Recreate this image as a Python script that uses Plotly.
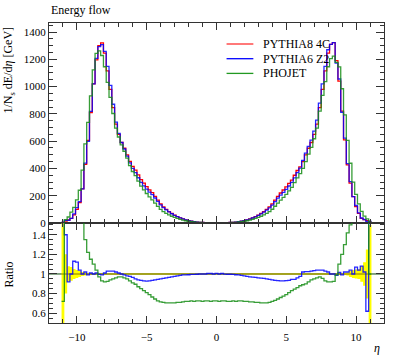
import plotly.graph_objects as go
from plotly.subplots import make_subplots

# ---- data (bin centres in eta, bin width 0.2) ----
ETA = [-11.0, -10.8, -10.6, -10.4, -10.2, -10.0, -9.8, -9.6, -9.4, -9.2, -9.0, -8.8, -8.6, -8.4, -8.2,
       -8.0, -7.8, -7.6, -7.4, -7.2, -7.0, -6.8, -6.6, -6.4, -6.2, -6.0, -5.8, -5.6, -5.4, -5.2,
       -5.0, -4.8, -4.6, -4.4, -4.2, -4.0, -3.8, -3.6, -3.4, -3.2, -3.0, -2.8, -2.6, -2.4, -2.2,
       -2.0, -1.8, -1.6, -1.4, -1.2, -1.0, -0.8, -0.6, -0.4, -0.2, 0.0,
       0.2, 0.4, 0.6, 0.8, 1.0, 1.2, 1.4, 1.6, 1.8, 2.0, 2.2, 2.4, 2.6, 2.8, 3.0,
       3.2, 3.4, 3.6, 3.8, 4.0, 4.2, 4.4, 4.6, 4.8, 5.0, 5.2, 5.4, 5.6, 5.8, 6.0,
       6.2, 6.4, 6.6, 6.8, 7.0, 7.2, 7.4, 7.6, 7.8, 8.0, 8.2, 8.4, 8.6, 8.8, 9.0,
       9.2, 9.4, 9.6, 9.8, 10.0, 10.2, 10.4, 10.6, 10.8, 11.0]
BIN_HALF = 0.1

# PYTHIA8 4C energy flow [GeV]
P8 = [4, 14, 22, 34, 59, 100, 150, 250, 430, 605, 810, 1020, 1195, 1300, 1320,
      1245, 1115, 980, 845, 725, 650, 590, 548, 500, 452, 415, 388, 353, 318, 292,
      267, 243, 222, 195, 168, 140, 118, 100, 84, 70, 58, 47, 38, 30, 23,
      18, 14, 10, 7, 5, 4, 3, 2, 1.5, 1, 1,
      1, 1.5, 2, 3, 4, 5, 7, 10, 14, 18, 23, 30, 38, 47, 58,
      70, 84, 100, 118, 140, 168, 195, 220, 242, 265, 290, 315, 350, 385, 412,
      450, 500, 548, 590, 650, 725, 845, 980, 1115, 1245, 1310, 1322, 1190, 1040, 820,
      610, 426, 292, 193, 120, 71, 34, 25, 18, 8]

# relative stat. uncertainty of PYTHIA8 4C
ERR_P8 = [0.55, 0.2, 0.08, 0.07, 0.05, 0.04, 0.03, 0.02, 0.015, 0.01, 0.008, 0.005, 0.005, 0.005, 0.005,
          0.005, 0.005, 0.005, 0.005, 0.005, 0.005, 0.005, 0.005, 0.005, 0.005, 0.005, 0.005, 0.005, 0.005, 0.005,
          0.005, 0.005, 0.005, 0.005, 0.005, 0.005, 0.005, 0.005, 0.005, 0.005, 0.005, 0.005, 0.005, 0.005, 0.005,
          0.005, 0.005, 0.005, 0.005, 0.005, 0.005, 0.005, 0.005, 0.005, 0.005, 0.005,
          0.005, 0.005, 0.005, 0.005, 0.005, 0.005, 0.005, 0.005, 0.005, 0.005, 0.005, 0.005, 0.005, 0.005, 0.005,
          0.005, 0.005, 0.005, 0.005, 0.005, 0.005, 0.005, 0.005, 0.005, 0.005, 0.005, 0.005, 0.005, 0.005, 0.005,
          0.005, 0.005, 0.005, 0.005, 0.005, 0.005, 0.005, 0.005, 0.005, 0.005, 0.005, 0.005, 0.005, 0.005, 0.008,
          0.01, 0.015, 0.03, 0.04, 0.045, 0.05, 0.08, 0.12, 0.25, 0.5]

# ratio PYTHIA6 Z2 / PYTHIA8 4C
R_P6 = [1.6, 1.4, 0.92, 1.0, 1.13, 1.12, 1.04, 1.0, 1.02, 0.99, 1.01, 1.0, 1.01, 0.995, 0.99,
        1.01, 1.03, 1.03, 1.03, 1.02, 1.01, 1.0, 0.99, 0.98, 0.975, 0.965, 0.95, 0.94, 0.935, 0.93,
        0.928, 0.93, 0.935, 0.94, 0.945, 0.95, 0.955, 0.96, 0.965, 0.97, 0.975, 0.98, 0.985, 0.99, 0.99,
        0.992, 0.995, 0.995, 0.997, 1.0, 1.0, 1.0, 1.005, 1.005, 1.0, 1.007,
        1.0, 1.005, 0.998, 0.997, 0.997, 0.995, 0.992, 0.99, 0.985, 0.98, 0.975, 0.97, 0.968, 0.965, 0.96,
        0.958, 0.955, 0.95, 0.945, 0.94, 0.935, 0.932, 0.93, 0.93, 0.932, 0.935, 0.945, 0.945, 0.96, 0.975,
        1.02, 1.025, 1.025, 1.03, 1.035, 1.04, 1.04, 1.04, 1.03, 1.02, 1.0, 1.0, 0.985, 1.015, 0.99,
        1.02, 1.02, 1.04, 1.0, 1.07, 1.04, 1.08, 1.02, 0.62, 1.6]

# ratio PHOJET / PYTHIA8 4C
R_PHO = [0.72, 1.8, 2.0, 2.35, 1.95, 1.7, 1.6, 1.55, 1.35, 1.22, 1.15, 1.1, 1.04, 0.97, 0.93,
         0.92, 0.925, 0.94, 0.95, 0.96, 0.97, 0.97, 0.96, 0.95, 0.93, 0.91, 0.895, 0.87, 0.85, 0.83,
         0.81, 0.79, 0.765, 0.745, 0.725, 0.715, 0.71, 0.705, 0.705, 0.705, 0.705, 0.71, 0.71, 0.715, 0.72,
         0.72, 0.725, 0.72, 0.725, 0.725, 0.72, 0.725, 0.725, 0.72, 0.725, 0.725,
         0.72, 0.725, 0.725, 0.72, 0.72, 0.725, 0.72, 0.725, 0.725, 0.72, 0.72, 0.715, 0.715, 0.71, 0.71,
         0.705, 0.705, 0.705, 0.71, 0.72, 0.73, 0.745, 0.76, 0.775, 0.79, 0.81, 0.83, 0.845, 0.86, 0.88,
         0.89, 0.9, 0.92, 0.94, 0.95, 0.96, 0.97, 0.955, 0.93, 0.92, 0.92, 0.925, 0.99, 1.1, 1.2,
         1.3, 1.42, 1.5, 1.55, 1.75, 1.97, 2.5, 2.0, 1.67, 1.0]

NAMES = ["PYTHIA8 4C", "PYTHIA6 Z2", "PHOJET"]
COLORS = ["#ff0000", "rgba(0,0,255,0.85)", "rgba(20,140,20,0.85)"]
LEG_COLORS = ["#ff3030", "#0000ff", "#229922"]

FONT = "Liberation Serif"

edges = [c - BIN_HALF for c in ETA] + [ETA[-1] + BIN_HALF]


def steps(v):
    return list(v) + [v[-1]]


P6 = [a * b for a, b in zip(P8, R_P6)]
PHO = [a * b for a, b in zip(P8, R_PHO)]

fig = make_subplots(rows=2, cols=1, shared_xaxes=True, row_heights=[2 / 3, 1 / 3],
                    vertical_spacing=0)

for vals, col in zip([P8, P6, PHO], COLORS):
    fig.add_trace(go.Scatter(x=edges, y=steps(vals), mode="lines", line_shape="hv",
                             line=dict(color=col, width=1.3), showlegend=False,
                             hoverinfo="skip"), row=1, col=1)

# ratio panel: reference line + uncertainty band
fig.add_shape(type="line", xref="x2", yref="y2", x0=-12, x1=12, y0=1, y1=1,
              line=dict(color="#0a4a0a", width=1), layer="below")
lo = [1 - e for e in ERR_P8]
hi = [1 + e for e in ERR_P8]
fig.add_trace(go.Scatter(x=edges, y=steps(lo), mode="lines", line_shape="hv",
                         line=dict(color="rgba(255,255,0,0)", width=0), showlegend=False,
                         hoverinfo="skip"), row=2, col=1)
fig.add_trace(go.Scatter(x=edges, y=steps(hi), mode="lines", line_shape="hv", fill="tonexty",
                         fillcolor="#ffff00", line=dict(color="rgba(255,255,0,0)", width=0),
                         showlegend=False, hoverinfo="skip"), row=2, col=1)
fig.add_trace(go.Scatter(x=edges, y=steps([1.0] * len(ETA)), mode="lines", line_shape="hv",
                         line=dict(color="#857500", width=1.2), showlegend=False,
                         hoverinfo="skip"), row=2, col=1)
for vals, col in zip([R_P6, R_PHO], COLORS[1:]):
    fig.add_trace(go.Scatter(x=edges, y=steps(vals), mode="lines", line_shape="hv",
                             line=dict(color=col, width=1.3), showlegend=False,
                             hoverinfo="skip"), row=2, col=1)

axis_common = dict(showline=True, linecolor="#333333", linewidth=1, mirror="ticks",
                   ticks="inside", tickcolor="#333333", showgrid=False, zeroline=False,
                   automargin=False,
                   tickfont=dict(family=FONT, size=11, color="black"))

fig.update_xaxes(range=[-12, 12], dtick=5, tick0=0, ticklen=7,
                 minor=dict(dtick=1, ticklen=4, ticks="inside", tickcolor="#333333"),
                 **axis_common)
fig.update_xaxes(showticklabels=False, row=1, col=1)
fig.update_xaxes(ticklabelstandoff=4, row=2, col=1)
fig.update_yaxes(range=[0, 1466], dtick=200, tick0=0, ticklen=8,
                 minor=dict(dtick=50, ticklen=4, ticks="inside", tickcolor="#333333"),
                 row=1, col=1, **axis_common)
fig.update_yaxes(range=[0.5, 1.52], tickvals=[0.6, 0.8, 1.0, 1.2, 1.4],
                 ticktext=["0.6", "0.8", "1", "1.2", "1.4"], ticklen=8,
                 minor=dict(dtick=0.05, tick0=0.5, ticklen=4, ticks="inside", tickcolor="#333333"),
                 row=2, col=1, **axis_common)

annotations = [
    dict(text="Energy flow", xref="paper", yref="paper", x=0.0, y=1.043, xanchor="left",
         yanchor="middle", showarrow=False, font=dict(family=FONT, size=12, color="black")),
    dict(text="1/N<sub>s</sub> dE/d<i>η</i> [GeV]", xref="paper", yref="paper", x=-0.118, y=0.995,
         xanchor="center", yanchor="top", textangle=-90, showarrow=False,
         font=dict(family=FONT, size=12, color="black")),
    dict(text="Ratio", xref="paper", yref="y2", x=-0.118, y=1.0, xanchor="center",
         yanchor="middle", textangle=-90, showarrow=False,
         font=dict(family=FONT, size=12, color="black")),
    dict(text="<i>η</i>", xref="paper", yref="paper", x=0.995, y=-0.083, xanchor="right",
         yanchor="middle", showarrow=False, font=dict(family=FONT, size=12, color="black")),
]
leg_y = [0.93, 0.881, 0.832]
for name, col, yy in zip(NAMES, LEG_COLORS, leg_y):
    fig.add_shape(type="line", xref="paper", yref="paper", x0=0.530, x1=0.610, y0=yy, y1=yy,
                  line=dict(color=col, width=1.3))
    annotations.append(dict(text=name, xref="paper", yref="paper", x=0.633, y=yy,
                            xanchor="left", yanchor="middle", showarrow=False,
                            font=dict(family=FONT, size=12, color="black")))

fig.update_layout(template="none", width=397, height=358, margin=dict(l=49, r=13, t=23, b=35),
                  plot_bgcolor="white", paper_bgcolor="white", annotations=annotations,
                  showlegend=False)

fig.write_html("out.html", config={"displayModeBar": False},
               post_script="document.body.style.margin='0';document.body.style.overflow='hidden';")
